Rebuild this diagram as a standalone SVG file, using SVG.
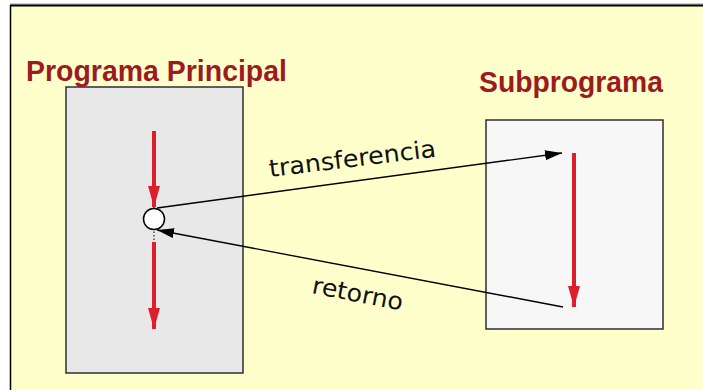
<svg xmlns="http://www.w3.org/2000/svg" width="703" height="390" viewBox="0 0 703 390">
  <style>
    .box { stroke: #2e2e2e; stroke-width: 1.5; }
    .title { font-family: "Liberation Sans", Arial, sans-serif; font-weight: bold; font-size: 29.5px; fill: #9b1b20; }
    .label { font-family: "DejaVu Sans", "Liberation Sans", sans-serif; font-size: 24px; fill: #111; }
    .flow { stroke: #dc1f2b; stroke-width: 4; fill: none; }
    .link { stroke: #000; stroke-width: 1.4; fill: none; }
  </style>
  <defs>
    <marker id="redHead" markerUnits="userSpaceOnUse" markerWidth="21" markerHeight="12" refX="21" refY="6" viewBox="0 0 21 12" orient="auto">
      <path d="M0,0 L21,6 L0,12 Z" fill="#dc1f2b"/>
    </marker>
    <marker id="blackHead" markerUnits="userSpaceOnUse" markerWidth="17" markerHeight="10" refX="17" refY="5" viewBox="0 0 17 10" orient="auto">
      <path d="M0,0 L17,5 L0,10 Z" fill="#000"/>
    </marker>
  </defs>

  <!-- page background and frame -->
  <rect x="0" y="0" width="703" height="390" fill="#ffffff"/>
  <rect x="10" y="5" width="693" height="385" fill="#ffffcc"/>
  <line x1="10" y1="4" x2="703" y2="4" stroke="#9a9a9a" stroke-width="1"/>
  <line x1="10" y1="5.5" x2="703" y2="5.5" stroke="#000" stroke-width="2"/>
  <line x1="10.5" y1="5" x2="10.5" y2="390" stroke="#000" stroke-width="1.5"/>

  <!-- main program -->
  <g id="programa-principal">
    <rect x="66" y="87" width="177" height="286" fill="#e8e8e8" class="box"/>
    <text class="title" x="26" y="81" textLength="261" lengthAdjust="spacingAndGlyphs">Programa Principal</text>
    <line x1="154" y1="186" x2="154" y2="241" stroke="#000" stroke-width="1" stroke-dasharray="1.5,2"/>
    <line class="flow" x1="154" y1="131" x2="154" y2="207" marker-end="url(#redHead)"/>
    <line class="flow" x1="154" y1="242" x2="154" y2="329" marker-end="url(#redHead)"/>
    <circle cx="154" cy="219" r="10.5" fill="#ffffff" stroke="#000" stroke-width="1.5"/>
  </g>

  <!-- subprogram -->
  <g id="subprograma">
    <rect x="486" y="120" width="177" height="209" fill="#f7f7f7" class="box"/>
    <text class="title" x="479" y="92" textLength="184" lengthAdjust="spacingAndGlyphs">Subprograma</text>
    <line class="flow" x1="574" y1="153" x2="574" y2="307" marker-end="url(#redHead)"/>
  </g>

  <!-- call and return connectors -->
  <g id="connectors">
    <line class="link" x1="157" y1="208" x2="562" y2="153" marker-end="url(#blackHead)"/>
    <line class="link" x1="563" y1="307" x2="157" y2="230" marker-end="url(#blackHead)"/>
    <text class="label" x="270" y="177" transform="rotate(-7 270 177)" textLength="168" lengthAdjust="spacingAndGlyphs">transferencia</text>
    <text class="label" x="311" y="293" transform="rotate(11 311 293)" textLength="92" lengthAdjust="spacingAndGlyphs">retorno</text>
  </g>
</svg>
